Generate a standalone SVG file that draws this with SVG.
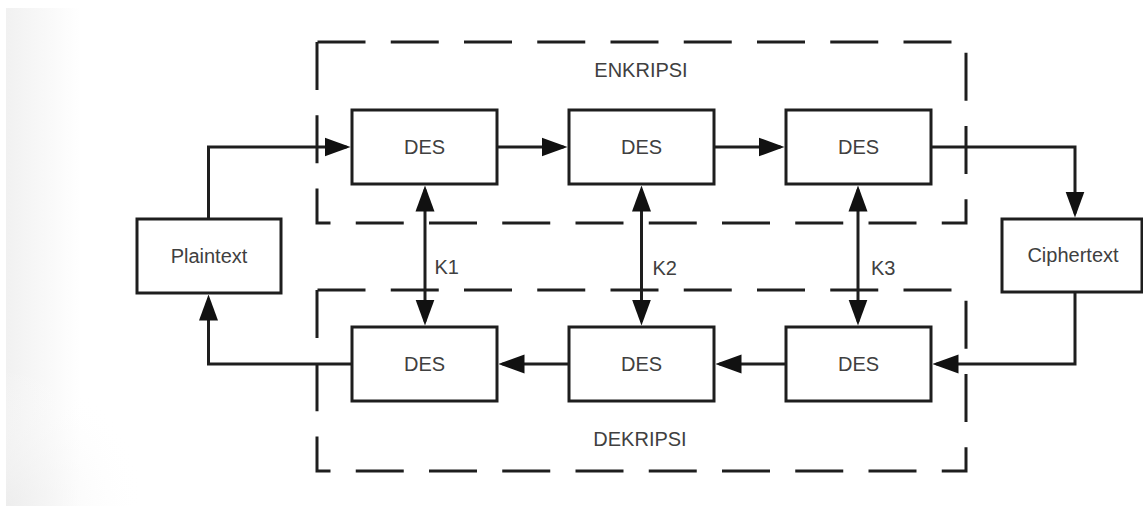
<svg xmlns="http://www.w3.org/2000/svg" width="1143" height="506" viewBox="0 0 1143 506">
  <defs>
    <style>
      .box { fill: #ffffff; stroke: #1e1e1e; stroke-width: 3; }
      .frame { fill: none; stroke: #1e1e1e; stroke-width: 3; stroke-dasharray: 48 25.25; stroke-linecap: butt; stroke-linejoin: miter; }
      .wire { fill: none; stroke: #1e1e1e; stroke-width: 3; stroke-linejoin: miter; }
      .flow { marker-end: url(#head); }
      .key { marker-start: url(#head); marker-end: url(#head); }
      .lbl { font-family: "Liberation Sans", Arial, sans-serif; font-size: 20px; fill: #404040; }
      .mid { text-anchor: middle; }
    </style>
    <marker id="head" viewBox="0 0 26 20" refX="22" refY="10" markerWidth="26" markerHeight="20" markerUnits="userSpaceOnUse" orient="auto-start-reverse">
      <path d="M0,0.5 L26,10 L0,19.5 Z" fill="#111111"/>
    </marker>
    <!-- soft grey shading along the left edge of the page -->
    <linearGradient id="edgeShade" gradientUnits="userSpaceOnUse" x1="6" y1="0" x2="80" y2="0">
      <stop offset="0" stop-color="#f1f1f1"/>
      <stop offset="0.5" stop-color="#f8f8f8"/>
      <stop offset="1" stop-color="#ffffff"/>
    </linearGradient>
    <radialGradient id="cornerShade" gradientUnits="userSpaceOnUse" cx="6" cy="506" r="140">
      <stop offset="0" stop-color="#ececec" stop-opacity="0.8"/>
      <stop offset="1" stop-color="#ffffff" stop-opacity="0"/>
    </radialGradient>
  </defs>

  <!-- page -->
  <rect x="0" y="0" width="1143" height="506" fill="#ffffff"/>
  <rect x="6" y="8" width="74" height="498" fill="url(#edgeShade)"/>
  <rect x="6" y="366" width="140" height="140" fill="url(#cornerShade)"/>

  <!-- encryption stage frame -->
  <g id="enkripsi">
    <path class="frame" d="M317,42 V223 H966 V42 Z"/>
    <text class="lbl mid" x="641" y="77">ENKRIPSI</text>
  </g>

  <!-- decryption stage frame -->
  <g id="dekripsi">
    <path class="frame" d="M317,290 V471 H966 V290 Z"/>
    <text class="lbl mid" x="640" y="446">DEKRIPSI</text>
  </g>

  <g id="plaintext">
    <rect class="box" x="137" y="219" width="144" height="74"/>
    <text class="lbl mid" x="209" y="263">Plaintext</text>
  </g>

  <g id="ciphertext">
    <rect class="box" x="1002" y="219" width="140" height="73"/>
    <text class="lbl mid" x="1073" y="262">Ciphertext</text>
  </g>

  <g id="enc-des-1">
    <rect class="box" x="352" y="110" width="145" height="74"/>
    <text class="lbl mid" x="424.5" y="154">DES</text>
  </g>
  <g id="enc-des-2">
    <rect class="box" x="569" y="110" width="145" height="74"/>
    <text class="lbl mid" x="641.5" y="154">DES</text>
  </g>
  <g id="enc-des-3">
    <rect class="box" x="786" y="110" width="145" height="74"/>
    <text class="lbl mid" x="858.5" y="154">DES</text>
  </g>

  <g id="dec-des-1">
    <rect class="box" x="352" y="327" width="145" height="74"/>
    <text class="lbl mid" x="424.5" y="371">DES</text>
  </g>
  <g id="dec-des-2">
    <rect class="box" x="569" y="327" width="145" height="74"/>
    <text class="lbl mid" x="641.5" y="371">DES</text>
  </g>
  <g id="dec-des-3">
    <rect class="box" x="786" y="327" width="145" height="74"/>
    <text class="lbl mid" x="858.5" y="371">DES</text>
  </g>

  <g id="connectors">
    <!-- encryption chain -->
    <path class="wire flow" d="M208.5,219 V147 H346.5"/>
    <path class="wire flow" d="M497,147 H563.5"/>
    <path class="wire flow" d="M714,147 H780.5"/>
    <path class="wire flow" d="M931,147 H1075 V213.5"/>
    <!-- decryption chain -->
    <path class="wire flow" d="M1075,292 V364 H936.5"/>
    <path class="wire flow" d="M786,364 H719.5"/>
    <path class="wire flow" d="M569,364 H502.5"/>
    <path class="wire flow" d="M352,364 H208.5 V298.5"/>
    <!-- shared keys -->
    <path class="wire key" d="M425,189.5 V321.5"/>
    <path class="wire key" d="M641.5,189.5 V321.5"/>
    <path class="wire key" d="M858,189.5 V321.5"/>
    <text class="lbl" x="434.5" y="274">K1</text>
    <text class="lbl" x="652.5" y="275">K2</text>
    <text class="lbl" x="871" y="275">K3</text>
  </g>
</svg>
